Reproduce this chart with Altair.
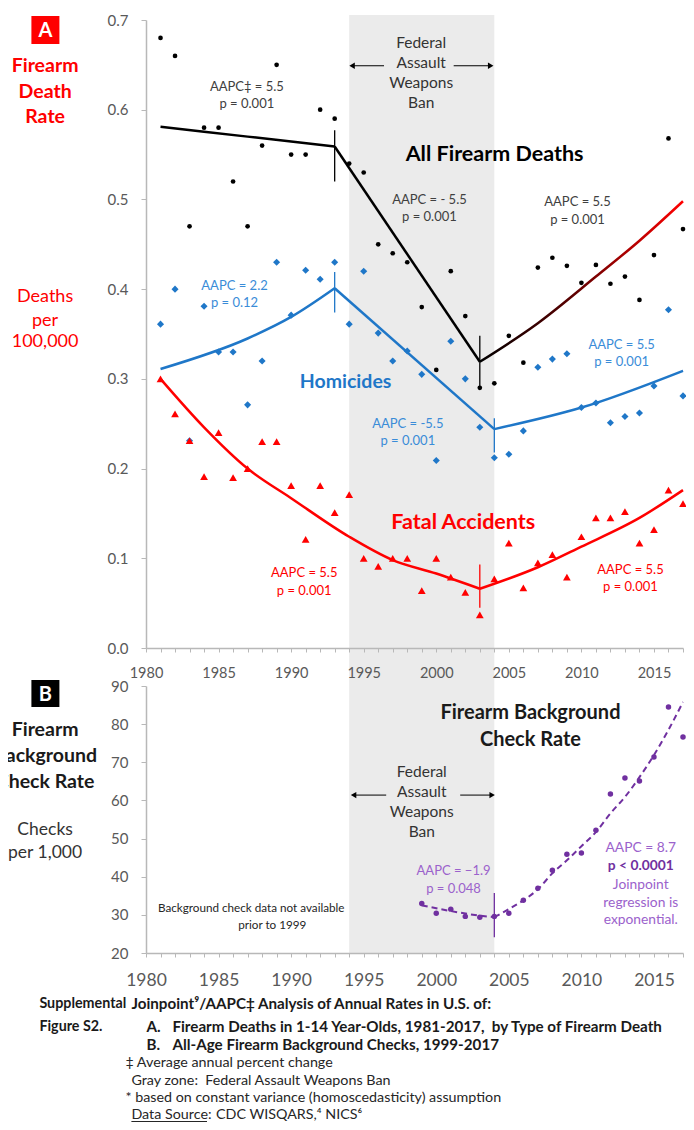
import altair as alt
import pandas as pd

FONT = "Lato"
BLUE = "#1f77c8"
BLUE_TXT = "#3a8cd8"
RED = "#ff0000"
PURPLE = "#7030a0"
PURPLE_TXT = "#9b62cc"
GRAY_TXT = "#404040"
BAND = "#ebebeb"
AXIS = "#b8b8b8"
LABEL = "#595959"

# ---------------- data: panel A ----------------
years = list(range(1981, 2018))
all_deaths = [0.68, 0.66, 0.47, 0.58, 0.58, 0.52, 0.47, 0.56, 0.65, 0.55, 0.55, 0.60,
              0.59, 0.54, 0.53, 0.45, 0.44, 0.43, 0.38, 0.31, 0.42, 0.37, 0.29, 0.295,
              0.348, 0.318, 0.424, 0.435, 0.426, 0.407, 0.427, 0.406, 0.414, 0.388,
              0.438, 0.568, 0.467]
homicides = [0.361, 0.40, 0.231, 0.381, 0.33, 0.33, 0.271, 0.32, 0.43, 0.371, 0.421, 0.411,
             0.43, 0.361, 0.42, 0.351, 0.32, 0.331, 0.305, 0.209, 0.342, 0.30, 0.246, 0.212,
             0.216, 0.242, 0.313, 0.322, 0.328, 0.268, 0.273, 0.251, 0.258, 0.262, 0.292,
             0.377, 0.281]
accidents = [0.30, 0.261, 0.231, 0.191, 0.24, 0.19, 0.20, 0.23, 0.23, 0.181, 0.121, 0.181,
             0.151, 0.171, 0.10, 0.091, 0.10, 0.10, 0.064, 0.10, 0.079, 0.062, 0.037, 0.077,
             0.117, 0.067, 0.095, 0.104, 0.079, 0.124, 0.145, 0.145, 0.152, 0.117, 0.132,
             0.176, 0.161]

# joinpoint fits, one list per segment
black_seg1_years = [1981, 1987, 1993]
black_seg1_vals = [0.581, 0.570, 0.559]
black_seg2_years = [1993, 2003]
black_seg2_vals = [0.559, 0.319]
black_seg3_years = [2003, 2007, 2011, 2014, 2017]
black_seg3_vals = [0.319, 0.362, 0.414, 0.454, 0.498]
blue_seg1_years = [1981, 1987, 1990, 1993]
blue_seg1_vals = [0.311, 0.345, 0.369, 0.401]
blue_seg2_years = [1993, 2004]
blue_seg2_vals = [0.401, 0.244]
blue_seg3_years = [2004, 2010, 2017]
blue_seg3_vals = [0.244, 0.268, 0.309]
red_seg1_years = [1981, 1984, 1987, 1990, 1994, 1997, 2000, 2003]
red_seg1_vals = [0.300, 0.246, 0.200, 0.167, 0.124, 0.098, 0.083, 0.066]
red_seg2_years = [2003, 2007, 2010, 2014, 2017]
red_seg2_vals = [0.066, 0.090, 0.113, 0.145, 0.176]

jp_years = [1993, 2003, 1993, 2004, 2003]
jp_lo = [0.520, 0.290, 0.374, 0.218, 0.045]
jp_hi = [0.577, 0.348, 0.419, 0.256, 0.093]
jp_colors = ["#000000", "#000000", BLUE, BLUE, RED]

# ---------------- data: panel B ----------------
check_years = list(range(1999, 2018))
checks = [33.0, 30.4, 31.5, 29.6, 29.4, 29.6, 30.4, 33.8, 37.0, 41.7, 45.9, 46.2, 52.2,
          61.7, 65.9, 65.1, 71.4, 84.5, 76.6]
check_seg1_years = [1999, 2001, 2003, 2004]
check_seg1_vals = [32.5, 31.0, 29.8, 29.4]
check_seg2_years = [2004, 2005, 2006, 2007, 2008, 2009, 2010, 2011, 2012, 2013, 2014, 2015, 2016, 2017]
check_seg2_vals = [29.4, 31.5, 33.8, 36.7, 40.9, 44.3, 48.0, 51.7, 56.6, 60.9, 66.1, 71.9, 78.5, 85.8]

ban_start, ban_end = 1994, 2004

W = 537
H_TOP = 628
H_BOT = 267
GAP = 38

xs = alt.Scale(domain=[1980, 2017], nice=False, zero=False)
ys_top = alt.Scale(domain=[0, 0.7], nice=False, zero=False)
ys_bot = alt.Scale(domain=[20, 90], nice=False, zero=False)


def xaxis(fs, pad):
    return alt.Axis(values=list(range(1980, 2018)),
                    labelExpr="datum.value % 5 == 0 ? '' + datum.value : ''",
                    title=None, labelFontSize=fs, labelPadding=pad, tickSize=4,
                    grid=False, domainColor=AXIS, tickColor=AXIS, domainWidth=1.5,
                    labelColor=LABEL, labelFont=FONT, labelOverlap=False,
                    labelFlush=False, zindex=1)


def yaxis(vals, fmt, fs):
    return alt.Axis(values=vals, format=fmt, title=None, labelFontSize=fs,
                    labelPadding=13, tickSize=5, grid=False, domainColor=AXIS,
                    tickColor=AXIS, domainWidth=1.5, labelColor=LABEL,
                    labelFont=FONT, zindex=1)


def data_text(xv, yv, labels, color, size, ys, weight="normal"):
    df = pd.DataFrame({"x": xv, "y": yv, "t": labels})
    return alt.Chart(df).mark_text(font=FONT, fontSize=size, fontWeight=weight,
                                   color=color, baseline="middle", align="center").encode(
        x=alt.X("x:Q", scale=xs, axis=None),
        y=alt.Y("y:Q", scale=ys, axis=None),
        text="t:N")


def px_text(x, y, t, color, size, weight="normal", align="center"):
    return alt.Chart(pd.DataFrame({"t": [t]})).mark_text(
        font=FONT, fontSize=size, fontWeight=weight, color=color,
        baseline="middle", align=align).encode(
        x=alt.value(x), y=alt.value(y), text="t:N")


def px_box(x, y, w, h, color, letter):
    box = alt.Chart(pd.DataFrame({"t": [letter]})).mark_rect(color=color).encode(
        x=alt.value(x - w / 2), x2=alt.value(x + w / 2),
        y=alt.value(y - h / 2), y2=alt.value(y + h / 2))
    return box + px_text(x, y + 1, letter, "white", 20, "bold")


def arrows(y_val, left_span, right_span, ys):
    df = pd.DataFrame({"x": [left_span[0], right_span[0]],
                       "x2": [left_span[1], right_span[1]],
                       "y": [y_val, y_val]})
    line = alt.Chart(df).mark_rule(color="#000000", strokeWidth=1).encode(
        x=alt.X("x:Q", scale=xs, axis=None), x2="x2:Q",
        y=alt.Y("y:Q", scale=ys, axis=None))
    heads = alt.Chart(pd.DataFrame({"x": [left_span[0], right_span[1]],
                                    "y": [y_val, y_val],
                                    "s": ["triangle-left", "triangle-right"]})).mark_point(
        filled=True, color="#000000", opacity=1, size=40).encode(
        x=alt.X("x:Q", scale=xs, axis=None), y=alt.Y("y:Q", scale=ys, axis=None),
        shape=alt.Shape("s:N", scale=None))
    return line + heads


def fit_line(yrs, vals, color, ys, dash=None, width=2.5, interp="monotone"):
    kw = dict(color=color, strokeWidth=width, interpolate=interp)
    if dash:
        kw["strokeDash"] = dash
    return alt.Chart(pd.DataFrame({"x": yrs, "y": vals})).mark_line(**kw).encode(
        x=alt.X("x:Q", scale=xs, axis=None), y=alt.Y("y:Q", scale=ys, axis=None))


# ---------------- Panel A ----------------
dfA = pd.DataFrame({"year": years, "all": all_deaths, "hom": homicides, "acc": accidents})

band_top = alt.Chart(pd.DataFrame({"a": [ban_start], "b": [ban_end]})).mark_rect(color=BAND).encode(
    x=alt.X("a:Q", scale=xs, axis=xaxis(14.5, 14)), x2="b:Q",
    y=alt.value(-5), y2=alt.value(H_TOP + GAP))

pts_all = alt.Chart(dfA).mark_circle(color="#000000", size=22, opacity=1).encode(
    x=alt.X("year:Q", scale=xs, axis=None),
    y=alt.Y("all:Q", scale=ys_top, axis=yaxis([0, 0.1, 0.2, 0.3, 0.4, 0.5, 0.6, 0.7], ".1f", 15)))
pts_hom = alt.Chart(dfA).mark_point(shape="diamond", filled=True, color=BLUE, size=50, opacity=1).encode(
    x=alt.X("year:Q", scale=xs, axis=None), y=alt.Y("hom:Q", scale=ys_top, axis=None))
pts_acc = alt.Chart(dfA).mark_point(shape="triangle-up", filled=True, color=RED, size=60, opacity=1).encode(
    x=alt.X("year:Q", scale=xs, axis=None), y=alt.Y("acc:Q", scale=ys_top, axis=None))

grad = alt.Gradient(gradient="linear",
                    stops=[alt.GradientStop(color="#000000", offset=0),
                           alt.GradientStop(color="#5a0000", offset=0.45),
                           alt.GradientStop(color="#ff0000", offset=1)],
                    x1=0, x2=1, y1=0, y2=0)

lines_A = alt.layer(
    fit_line(black_seg1_years, black_seg1_vals, "#000000", ys_top),
    fit_line(black_seg2_years, black_seg2_vals, "#000000", ys_top, interp="linear"),
    fit_line(black_seg3_years, black_seg3_vals, grad, ys_top),
    fit_line(blue_seg1_years, blue_seg1_vals, BLUE, ys_top),
    fit_line(blue_seg2_years, blue_seg2_vals, BLUE, ys_top, interp="linear"),
    fit_line(blue_seg3_years, blue_seg3_vals, BLUE, ys_top),
    fit_line(red_seg1_years, red_seg1_vals, RED, ys_top),
    fit_line(red_seg2_years, red_seg2_vals, RED, ys_top),
)

jp = alt.Chart(pd.DataFrame({"x": jp_years, "lo": jp_lo, "hi": jp_hi, "c": jp_colors})).mark_rule(
    strokeWidth=1.3).encode(
    x=alt.X("x:Q", scale=xs, axis=None), y=alt.Y("lo:Q", scale=ys_top, axis=None), y2="hi:Q",
    color=alt.Color("c:N", scale=None))

ann_gray = data_text([1986.95, 1986.95, 1999.53, 1999.53, 2009.73, 2009.73],
                     [0.625, 0.606, 0.4994, 0.4808, 0.4976, 0.4771],
                     ["AAPC‡ = 5.5", "p = 0.001", "AAPC = - 5.5", "p = 0.001", "AAPC = 5.5", "p = 0.001"],
                     GRAY_TXT, 13, ys_top)
ban_txt_A = data_text([1998.96] * 4, [0.674, 0.652, 0.630, 0.608],
                      ["Federal", "Assault", "Weapons", "Ban"], "#333333", 15.5, ys_top)
title_all = data_text([2004.02], [0.5496], ["All Firearm Deaths"], "#000000", 21.5, ys_top, "bold")
ann_blue = data_text([1986.1, 1986.1, 1998.04, 1998.04, 2012.77, 2012.77],
                     [0.4036, 0.385, 0.2494, 0.2308, 0.3378, 0.3192],
                     ["AAPC = 2.2", "p = 0.12", "AAPC = -5.5", "p = 0.001", "AAPC = 5.5", "p = 0.001"],
                     BLUE_TXT, 13, ys_top)
title_hom = data_text([1993.75], [0.2969], ["Homicides"], BLUE, 19.5, ys_top, "bold")
ann_red = data_text([1990.9, 1990.9, 2013.38, 2013.38], [0.0833, 0.0635, 0.087, 0.0677],
                    ["AAPC = 5.5", "p = 0.001", "AAPC = 5.5", "p = 0.001"], RED, 13, ys_top)
title_acc = data_text([2001.86], [0.1397], ["Fatal Accidents"], RED, 21.5, ys_top, "bold")

arrows_A = arrows(0.649, (1994.2, 1996.4), (2001.2, 2003.75), ys_top)

left_A = alt.layer(
    px_box(-100.6, 10, 28, 28, RED, "A"),
    px_text(-100.9, 45.7, "Firearm", RED, 19.5, "bold"),
    px_text(-100.9, 71.7, "Death", RED, 19.5, "bold"),
    px_text(-100.9, 97.3, "Rate", RED, 19.5, "bold"),
    px_text(-100.9, 276.7, "Deaths", RED, 18),
    px_text(-100.9, 300.7, "per", RED, 18),
    px_text(-100.9, 322.3, "100,000", RED, 18),
)

top = alt.layer(band_top, pts_all, pts_hom, pts_acc, lines_A, jp, ann_gray, ban_txt_A,
                title_all, ann_blue, title_hom, ann_red, title_acc, arrows_A, left_A
                ).properties(width=W, height=H_TOP).resolve_axis(x="independent", y="independent")

# ---------------- Panel B ----------------
dfB = pd.DataFrame({"year": check_years, "v": checks})
band_bot = alt.Chart(pd.DataFrame({"a": [ban_start], "b": [ban_end]})).mark_rect(color=BAND).encode(
    x=alt.X("a:Q", scale=xs, axis=xaxis(17.5, 14)), x2="b:Q",
    y=alt.value(0), y2=alt.value(H_BOT))
pts_chk = alt.Chart(dfB).mark_circle(color=PURPLE, size=30, opacity=1).encode(
    x=alt.X("year:Q", scale=xs, axis=None),
    y=alt.Y("v:Q", scale=ys_bot, axis=yaxis([20, 30, 40, 50, 60, 70, 80, 90], "d", 15)))
lines_B = alt.layer(
    fit_line(check_seg1_years, check_seg1_vals, PURPLE, ys_bot, dash=[6, 4], width=2),
    fit_line(check_seg2_years, check_seg2_vals, PURPLE, ys_bot, dash=[6, 4], width=2),
)
jp_b = alt.Chart(pd.DataFrame({"x": [2004], "lo": [24.1], "hi": [35.7]})).mark_rule(
    color=PURPLE, strokeWidth=1.3).encode(
    x=alt.X("x:Q", scale=xs, axis=None), y=alt.Y("lo:Q", scale=ys_bot, axis=None), y2="hi:Q")

title_chk = data_text([2006.49, 2006.49], [82.83, 75.83], ["Firearm Background", "Check Rate"],
                      "#1a1a1a", 20, ys_bot, "bold")
ban_txt_B = data_text([1999.0] * 4, [67.51, 62.26, 57.0, 51.6],
                      ["Federal", "Assault", "Weapons", "Ban"], "#333333", 15.5, ys_bot)
arrows_B = arrows(61.4, (1994.3, 1996.55), (2001.65, 2003.85), ys_bot)
ann_p1 = data_text([2001.19, 2001.19], [41.44, 36.9], ["AAPC = −1.9", "p = 0.048"],
                   PURPLE_TXT, 13, ys_bot)
ann_p2 = data_text([2014.09, 2014.09, 2014.09, 2014.09], [47.4, 37.95, 33.2, 28.6],
                   ["AAPC = 8.7", "Joinpoint", "regression is", "exponential."],
                   PURPLE_TXT, 13.8, ys_bot)
ann_p3 = data_text([2014.09], [42.76], ["p < 0.0001"], PURPLE, 13.8, ys_bot, "bold")
na_txt = data_text([1987.25, 1988.7], [31.9, 27.3],
                   ["Background check data not available", "prior to 1999"], "#262626", 11.7, ys_bot)

left_B = alt.layer(
    px_box(-100.6, 7.5, 28, 27, "#000000", "B"),
    px_text(-100.9, 44, "Firearm", "#1a1a1a", 19.5, "bold"),
    px_text(-100.9, 70, "Background", "#1a1a1a", 19.5, "bold"),
    px_text(-100.9, 96.3, "Check Rate", "#1a1a1a", 19.5, "bold"),
    px_text(-100.9, 144, "Checks", "#333333", 17.5),
    px_text(-100.9, 166.7, "per 1,000", "#333333", 17.5),
)

NB = "\u00a0"
cap_small_bold = [
    (-106.6, 318.4, "Supplemental"),
    (-106.6, 340.7, "Figure S2."),
]
cap_bold = [
    (-14.6, 318.4, "Joinpoint⁹/AAPC‡ Analysis of Annual Rates in U.S. of:"),
    (0.4, 340.7, "A."),
    (26.4, 340.7, "Firearm Deaths in 1-14 Year-Olds, 1981-2017," + NB + " by Type of Firearm Death"),
    (0.4, 359.3, "B."),
    (26.4, 359.3, "All-Age Firearm Background Checks, 1999-2017"),
]
cap_norm = [
    (-20.6, 377, "‡ Average annual percent change"),
    (-14.6, 394.5, "Gray zone:" + NB + " Federal Assault Weapons Ban"),
    (-20.6, 412, "* based on constant variance (homoscedasticity) assumption"),
    (-14.6, 429, "Data Source:"),
    (70, 429, "CDC WISQARS,⁴ NICS⁶"),
]
caption = alt.layer(
    *[px_text(x, y, t, "#1a1a1a", 14.3, "bold", "left") for x, y, t in cap_small_bold],
    *[px_text(x, y, t, "#1a1a1a", 15.2, "bold", "left") for x, y, t in cap_bold],
    *[px_text(x, y, t, "#262626", 14.3, "normal", "left") for x, y, t in cap_norm],
    alt.Chart(pd.DataFrame({"a": [0]})).mark_rule(color="#262626", strokeWidth=1).encode(
        x=alt.value(-14.6), x2=alt.value(61), y=alt.value(435.5)),
)

bottom = alt.layer(band_bot, pts_chk, lines_B, jp_b, title_chk, ban_txt_B, arrows_B,
                   ann_p1, ann_p2, ann_p3, na_txt, left_B, caption
                   ).properties(width=W, height=H_BOT).resolve_axis(x="independent", y="independent")

chart = alt.vconcat(top, bottom, spacing=GAP, bounds="flush").properties(
    autosize=alt.AutoSizeParams(type="none"),
    padding={"left": 138, "top": 12, "right": 3, "bottom": 1102},
).configure(font=FONT).configure_view(stroke=None)

chart.save("out.html", embed_options={"renderer": "svg", "actions": False})
